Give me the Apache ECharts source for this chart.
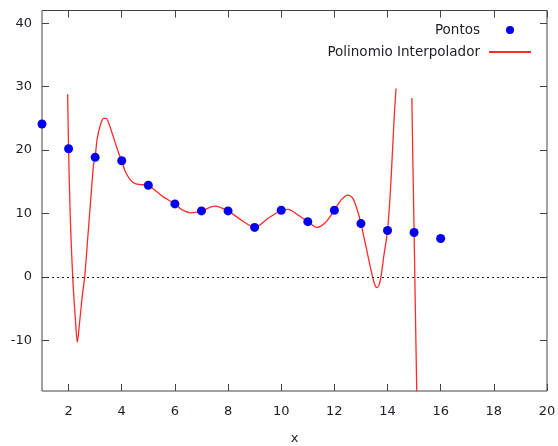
<!DOCTYPE html>
<html>
<head>
<meta charset="utf-8">
<script src="https://cdn.jsdelivr.net/npm/echarts@6/dist/echarts.min.js"></script>
<style>
  html, body { margin: 0; padding: 0; background: #fff; }
  #chart { width: 558px; height: 446px; }
</style>
</head>
<body>
<div id="chart"></div>
<script>
// Data points (Pontos)
const pointX = [1, 2, 3, 4, 5, 6, 7, 8, 9, 10, 11, 12, 13, 14, 15, 16];
const pointY = [24.1, 20.2, 18.85, 18.3, 14.45, 11.5, 10.4, 10.4, 7.8, 10.5, 8.7, 10.5, 8.4, 7.3, 7.0, 6.05];

// Interpolating polynomial curve (null = gap where it leaves the plot)
const curveX = [1.965, 2.0, 2.065, 2.155, 2.255, 2.33, 2.405, 2.505, 2.605, 2.73, 2.855, 2.945, 3.0, 3.07, 3.195, 3.32, 3.41, 3.535, 3.70, 3.885, 4.0, 4.135, 4.325, 4.51, 4.70, 5.0, 5.24, 5.55, 6.0, 6.24, 6.62, 7.0, 7.5, 8.0, 8.5, 9.0, 9.5, 10.0, 10.26, 10.63, 11.0, 11.36, 11.67, 12.0, 12.25, 12.50, 12.69, 12.88, 13.0, 13.19, 13.38, 13.505, 13.605, 13.73, 13.855, 14.0, 14.11, 14.195, 14.26, 14.32, 14.6, 14.915, 14.955, 15.0, 15.05, 15.10];
const curveY = [28.8, 20.2, 9.2, 0, -6.6, -10.3, -7.6, -3.4, 0, 6.6, 13.4, 17.9, 18.85, 21.6, 23.95, 25.0, 25.0, 23.95, 21.85, 19.5, 18.3, 16.6, 15.3, 14.7, 14.55, 14.45, 13.7, 12.65, 11.5, 10.65, 10.1, 10.4, 11.15, 10.4, 8.95, 7.8, 9.2, 10.5, 10.65, 9.75, 8.7, 7.8, 8.6, 10.5, 12.1, 12.9, 12.4, 10.3, 8.4, 4.75, 1.05, -1.05, -1.7, -0.5, 3.15, 7.3, 13.7, 20.5, 25.8, 29.7, null, 28.2, 17.9, 7.0, -5.8, -18.1];

// Axis ticks
const xTickValues = [2, 4, 6, 8, 10, 12, 14, 16, 18, 20];
const yTickValues = [-10, 0, 10, 20, 30, 40];

const scatterData = pointX.map((x, i) => [x, pointY[i]]);
const curveData = curveX.map((x, i) => [x, curveY[i]]);

const font = 'DejaVu Sans';
const frameColor = '#444';
const labelColor = '#1e1e2a';

const chart = echarts.init(document.getElementById('chart'), null, { renderer: 'canvas' });

const xBase = {
  type: 'value', min: 1, max: 20,
  axisLine: { show: false, onZero: false },
  splitLine: { show: false },
  axisTick: { show: true, inside: true, length: 7, customValues: xTickValues, lineStyle: { color: frameColor, width: 1 } }
};
const yBase = {
  type: 'value', min: -18, max: 42,
  axisLine: { show: false, onZero: false },
  splitLine: { show: false },
  axisTick: { show: true, inside: true, length: 7, customValues: yTickValues, lineStyle: { color: frameColor, width: 1 } }
};

chart.setOption({
  animation: false,
  backgroundColor: '#fff',
  grid: {
    left: 42, right: 11, top: 10.5, bottom: 55,
    outerBoundsMode: 'none', containLabel: false,
    show: true, borderColor: frameColor, borderWidth: 1, backgroundColor: 'transparent'
  },
  legend: {
    orient: 'vertical', align: 'right', right: 21, top: 18,
    itemWidth: 42, itemHeight: 8, itemGap: 8,
    textStyle: { fontFamily: font, fontSize: 13.5, color: labelColor, padding: [0, 4, 0, 0] },
    data: [
      { name: 'Pontos' },
      { name: 'Polinomio Interpolador', itemStyle: { opacity: 0 } }
    ]
  },
  xAxis: [
    Object.assign({}, xBase, {
      position: 'bottom',
      name: 'x', nameLocation: 'middle', nameGap: 41,
      nameTextStyle: { fontFamily: font, fontSize: 13, color: labelColor },
      axisLabel: { show: true, margin: 14, customValues: xTickValues, fontFamily: font, fontSize: 13, color: labelColor }
    }),
    Object.assign({}, xBase, { position: 'top', axisLabel: { show: false } })
  ],
  yAxis: [
    Object.assign({}, yBase, {
      position: 'left',
      axisLabel: { show: true, margin: 10, customValues: yTickValues, fontFamily: font, fontSize: 13, color: labelColor }
    }),
    Object.assign({}, yBase, { position: 'right', axisLabel: { show: false } })
  ],
  series: [
    {
      name: 'Polinomio Interpolador',
      type: 'line',
      xAxisIndex: 0, yAxisIndex: 0,
      data: curveData,
      showSymbol: false, symbol: 'none',
      smooth: 0.3,
      connectNulls: false,
      clip: true,
      lineStyle: { color: '#ff2a2a', width: 1.3 },
      itemStyle: { color: '#ff2a2a' },
      z: 3
    },
    {
      name: 'Pontos',
      type: 'scatter',
      xAxisIndex: 0, yAxisIndex: 0,
      data: scatterData,
      symbol: 'circle', symbolSize: 9,
      itemStyle: { color: '#0000ee', opacity: 1 },
      clip: false,
      z: 4,
      markLine: {
        silent: true, symbol: 'none', label: { show: false },
        lineStyle: { color: '#222', type: [2, 3], width: 1 },
        data: [{ yAxis: 0 }]
      }
    }
  ]
});
</script>
</body>
</html>
